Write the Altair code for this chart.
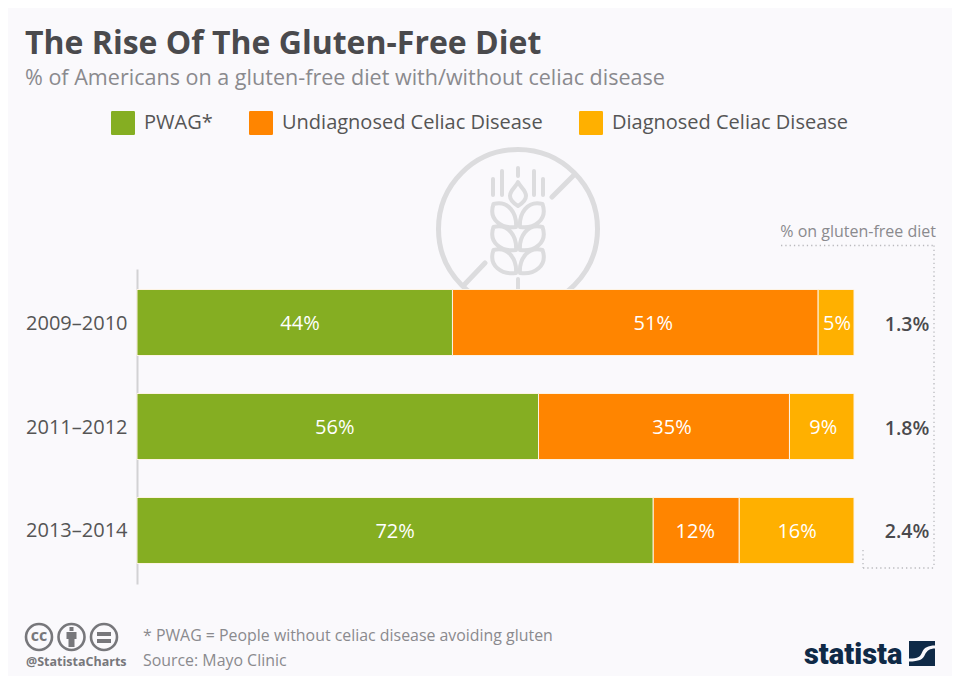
import altair as alt
import pandas as pd

periods = ["2009–2010", "2011–2012", "2013–2014"]
groups = ["PWAG*", "Undiagnosed Celiac Disease", "Diagnosed Celiac Disease"]
colors = ["#85ae22", "#ff8500", "#ffb000"]
pwag = [44, 56, 72]
undiagnosed = [51, 35, 12]
diagnosed = [5, 9, 16]
totals = ["1.3%", "1.8%", "2.4%"]

BG = "#faf9fc"
FONT = "Open Sans"
ONE = alt.Data(values=[{"a": 1}])
PX_PER_UNIT = 7.17
# the reference's value labels sit slightly off their segment centres (pixels)
label_nudge = {(0, 0): 5.3, (0, 1): 18, (0, 2): 1, (1, 0): -3, (1, 1): 8, (1, 2): 1.5,
               (2, 0): 0, (2, 1): -1, (2, 2): 0.5}

rows = []
for i, p in enumerate(periods):
    start = 0
    for g, series in zip(range(3), [pwag, undiagnosed, diagnosed]):
        v = series[i]
        rows.append({"period": p, "group": groups[g], "order": g, "value": v,
                     "start": start, "end": start + v,
                     "mid": start + v / 2 + label_nudge[(i, g)] / PX_PER_UNIT, "label": f"{v}%"})
        start += v
df = pd.DataFrame(rows)
df_tot = pd.DataFrame({"period": periods, "total": totals})

x_scale = alt.Scale(domain=[0, 100], range=[129, 846])
y_scale = alt.Scale(domain=periods, range=[261, 576], paddingInner=0.365, paddingOuter=0.197)


def txt(s, x, y, size, color, weight="normal", align="left", font=FONT):
    return alt.Chart(ONE).mark_text(
        text=s, font=font, fontSize=size, color=color, fontWeight=weight, align=align, baseline="middle"
    ).encode(x=alt.value(x - 8), y=alt.value(y - 8))


def icon(path, x, y, stroke=None, width=1, fill=None):
    kw = dict(shape=path, size=4, opacity=1)
    if fill:
        kw.update(filled=True, fill=fill, strokeWidth=0)
    else:
        kw.update(filled=False, stroke=stroke, strokeWidth=width, strokeCap="round", strokeJoin="round")
    return alt.Chart(ONE).mark_point(**kw).encode(x=alt.value(x - 8), y=alt.value(y - 8))


def rule(x1, y1, x2, y2):
    return alt.Chart(ONE).mark_rule(color="#b9b9bd", strokeWidth=1.3, strokeDash=[1.3, 3]).encode(
        x=alt.value(x1 - 8), x2=alt.value(x2 - 8), y=alt.value(y1 - 8), y2=alt.value(y2 - 8))


ICON_C = "#dcdcde"
ring = "M79.5,0 A79.5,79.5 0 1 1 -79.5,0 A79.5,79.5 0 1 1 79.5,0 Z M56,-54 L34,-32 M-33,34 L-54,56"
leaf_l = "M-24.5,{a} C-9,{b} -1,{c} -2,{d} C-16,{e} -30,{f} -24.5,{a} Z"
leaf_r = "M24.5,{a} C9,{b} 1,{c} 2,{d} C16,{e} 30,{f} 24.5,{a} Z"
wheat = "M0,-47 C2,-42 8,-39 8,-33 C8,-28 3,-25 0,-23 C-3,-25 -8,-28 -8,-33 C-8,-39 -2,-42 0,-47 Z "
wheat += "M-25,-50 L-25,-34 M-16,-58 L-16,-34 M0,-61 L0,-53 M16,-58 L16,-34 M25,-50 L25,-34 M0,50 L0,62 "
for o in [0, 23, 46]:
    vals = dict(a=-25 + o, b=-29 + o, c=-15 + o, d=-2 + o, e=0 + o, f=-9 + o)
    wheat += leaf_l.format(**vals) + " " + leaf_r.format(**vals) + " "

rounded_square = ("M-0.9,-1 L0.9,-1 Q1,-1 1,-0.9 L1,0.9 Q1,1 0.9,1 L-0.9,1 Q-1,1 -1,0.9 "
                  "L-1,-0.9 Q-1,-1 -0.9,-1 Z")

bars = alt.Chart(df).mark_bar(stroke="#fdf3e3", strokeWidth=1, size=66).encode(
    x=alt.X("start:Q", scale=x_scale, axis=None),
    x2="end:Q",
    y=alt.Y("period:N", scale=y_scale, sort=periods, title=None,
            axis=alt.Axis(offset=-129, ticks=False, grid=False, domainColor="#d2d2d4", domainWidth=2,
                          labelFont=FONT, labelFontSize=20, labelColor="#555555", labelPadding=10,
                          labelOffset=1)),
    color=alt.Color("group:N", scale=alt.Scale(domain=groups, range=colors),
                    legend=alt.Legend(title=None, orient="none", legendX=103, legendY=103, direction="horizontal",
                                      columns=3, symbolType=rounded_square, symbolSize=576, symbolStrokeWidth=0,
                                      symbolOpacity=1, labelFont=FONT, labelFontSize=20, labelColor="#555555",
                                      labelOffset=9, columnPadding=36, labelLimit=400, gridAlign="each")),
    order="order:Q",
)

bar_labels = alt.Chart(df).mark_text(font=FONT, fontSize=20, color="white", baseline="middle", dy=1.5).encode(
    x=alt.X("mid:Q", scale=x_scale), y=alt.Y("period:N", scale=y_scale, sort=periods), text="label:N")

total_labels = alt.Chart(df_tot).mark_text(
    font=FONT, fontSize=19.5, fontWeight=600, color="#4a4a4d", baseline="middle", align="center", dy=2
).encode(x=alt.value(899), y=alt.Y("period:N", scale=y_scale, sort=periods), text="total:N")

layers = [
    icon(ring, 518, 229, stroke=ICON_C, width=5),
    icon(wheat, 518, 229, stroke=ICON_C, width=4),
    bars, bar_labels, total_labels,
    txt("The Rise Of The Gluten-Free Diet", 25, 44, 32, "#4a4a4d", "bold"),
    txt("% of Americans on a gluten-free diet with/without celiac disease", 25, 79, 21.55, "#8a8a8e"),
    txt("% on gluten-free diet", 936, 232, 16, "#8a8a8e", align="right"),
    rule(781, 245.5, 934, 245.5), rule(934, 245.5, 934, 568),
    rule(863, 568, 934, 568), rule(863, 550, 863, 568),
    # licence badges
    icon("M13,0 A13,13 0 1 1 -13,0 A13,13 0 1 1 13,0 Z", 39, 637, stroke="#77777b", width=2.6),
    icon("M13,0 A13,13 0 1 1 -13,0 A13,13 0 1 1 13,0 Z", 71.5, 637, stroke="#77777b", width=2.6),
    icon("M13,0 A13,13 0 1 1 -13,0 A13,13 0 1 1 13,0 Z", 104, 637, stroke="#77777b", width=2.6),
    txt("cc", 39, 636, 16, "#77777b", "bold", "center"),
    icon("M-2,-10 L2,-10 L2,-6 L-2,-6 Z M-5,-5 L5,-5 L5,2 L3,2 L3,10 L-3,10 L-3,2 L-5,2 Z", 71.5, 637, fill="#77777b"),
    icon("M-7,-5 L7,-5 L7,-1 L-7,-1 Z M-7,2 L7,2 L7,6 L-7,6 Z", 104, 637, fill="#77777b"),
    txt("@StatistaCharts", 26, 662, 12.5, "#77777b", "bold"),
    txt("* PWAG = People without celiac disease avoiding gluten", 143, 636, 15.9, "#8a8a8e"),
    txt("Source: Mayo Clinic", 143, 661, 15.9, "#8a8a8e"),
    # wordmark
    txt("statista", 804, 655, 29, "#0f2a47", 900, font="Roboto"),
    icon("M-13,-12.5 L13,-12.5 L13,12.5 L-13,12.5 Z", 922, 653.5, fill="#0f2a47"),
    icon("M-13,5 C-3,5 -2,3 0,-1 C2,-6 6,-8 13,-8 L13,-5 C8,-5 5,-3 3,1 C1,6 -3,8 -13,8 Z", 922, 653.5, fill=BG),
]

chart = alt.layer(*layers).resolve_scale(x="shared", y="shared").properties(
    width=944, height=668, background=BG, padding=0,
    autosize=alt.AutoSizeParams(type="none"),
).configure_view(stroke=None)

chart.save("out.html", embed_options={"renderer": "svg", "actions": False})
